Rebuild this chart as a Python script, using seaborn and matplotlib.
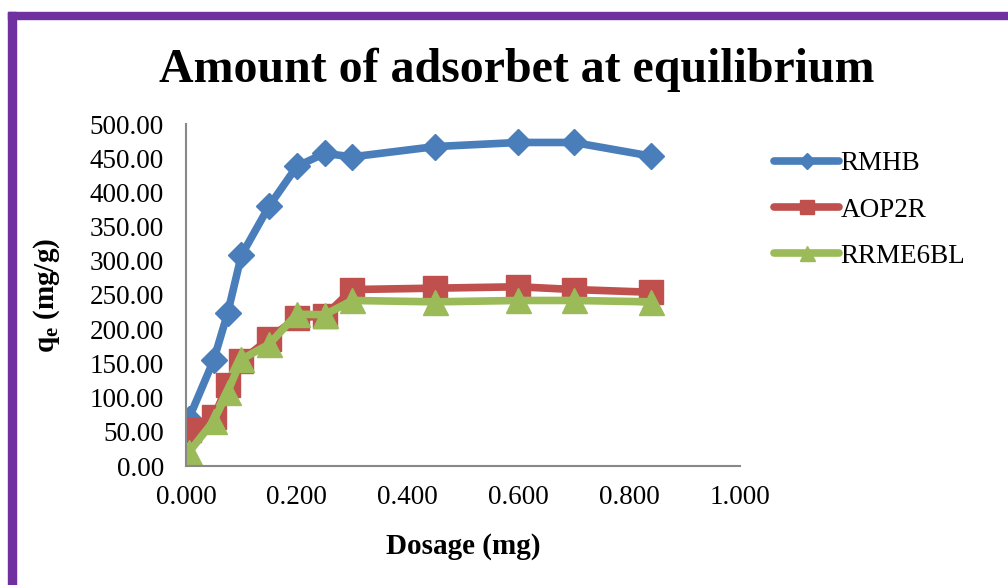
import matplotlib
matplotlib.use("Agg")
import matplotlib.pyplot as plt
import seaborn as sns
from matplotlib.patches import Rectangle
from matplotlib.ticker import FormatStrFormatter, MultipleLocator

# dosage (mg) and q_e (mg/g)
dosage = [0.005, 0.05, 0.075, 0.1, 0.15, 0.2, 0.25, 0.3, 0.45, 0.6, 0.7, 0.84]
rmhb = [69, 155, 223, 308, 380, 438, 457, 452, 467, 473, 473, 453]
aop2r = [52, 71, 118, 154, 186, 217, 219, 258, 260, 262, 258, 254]
rrme6bl = [20, 66, 108, 156, 178, 222, 221, 242, 240, 242, 242, 240]

series = [
    ("RMHB", rmhb, "#4A7EBB", "D", 13),
    ("AOP2R", aop2r, "#C0504D", "s", 17),
    ("RRME6BL", rrme6bl, "#9BBB59", "^", 18),
]

sns.set_style("white")
plt.rcParams["font.family"] = ["Liberation Serif", "DejaVu Serif"]
plt.rcParams["mathtext.fontset"] = "custom"
plt.rcParams["mathtext.rm"] = "Liberation Serif"
plt.rcParams["mathtext.bf"] = "Liberation Serif:bold"
plt.rcParams["text.color"] = "black"
plt.rcParams["axes.labelcolor"] = "black"
plt.rcParams["xtick.color"] = "black"
plt.rcParams["ytick.color"] = "black"

fig = plt.figure(figsize=(10.08, 5.85), dpi=100)
ax = fig.add_axes([186 / 1008, 1 - 466 / 585, (740 - 186) / 1008, (466 - 124) / 585])

for name, vals, color, marker, msize in series:
    sns.lineplot(x=dosage, y=vals, ax=ax, color=color, linewidth=5.5, marker=marker,
                 markersize=msize, markeredgecolor=color, markeredgewidth=1, label=name)

ax.set_xlim(0, 1.0)
ax.set_ylim(0, 500)
ax.xaxis.set_major_locator(MultipleLocator(0.2))
ax.yaxis.set_major_locator(MultipleLocator(50))
ax.xaxis.set_major_formatter(FormatStrFormatter("%.3f"))
ax.yaxis.set_major_formatter(FormatStrFormatter("%.2f"))
ax.tick_params(axis="both", labelsize=19.5, length=0)
ax.tick_params(axis="y", pad=16)
ax.tick_params(axis="x", pad=14)
for side in ["top", "right"]:
    ax.spines[side].set_visible(False)
for side in ["left", "bottom"]:
    ax.spines[side].set_color("#888888")
    ax.spines[side].set_linewidth(1.5)

ax.set_xlabel("Dosage (mg)", fontsize=21, fontweight="bold", labelpad=16)
ax.set_ylabel(r"$\mathbf{q_e}$ (mg/g)", fontsize=21, fontweight="bold", labelpad=20)
fig.suptitle("Amount of adsorbet at equilibrium", fontsize=34.5, fontweight="bold",
             x=0.513, y=1 - 48 / 585)

ax.get_legend().remove()
handles, labels = ax.get_legend_handles_labels()
leg = fig.legend(handles, labels, loc="upper left", bbox_to_anchor=(750 / 1008, 1 - 127 / 585),
                 frameon=False, fontsize=19.5, handlelength=2.4, handletextpad=0.05,
                 labelspacing=0.78, markerscale=0.6)

# purple frame around the chart area
purple = "#7030A0"
fig.patches.append(Rectangle((8 / 1008, 1 - 19 / 585), 1, 7 / 585, transform=fig.transFigure,
                             color=purple, zorder=5))
fig.patches.append(Rectangle((8 / 1008, 0), 8 / 1008, 1 - 12 / 585, transform=fig.transFigure,
                             color=purple, zorder=5))

fig.savefig("out.png", dpi=100)
